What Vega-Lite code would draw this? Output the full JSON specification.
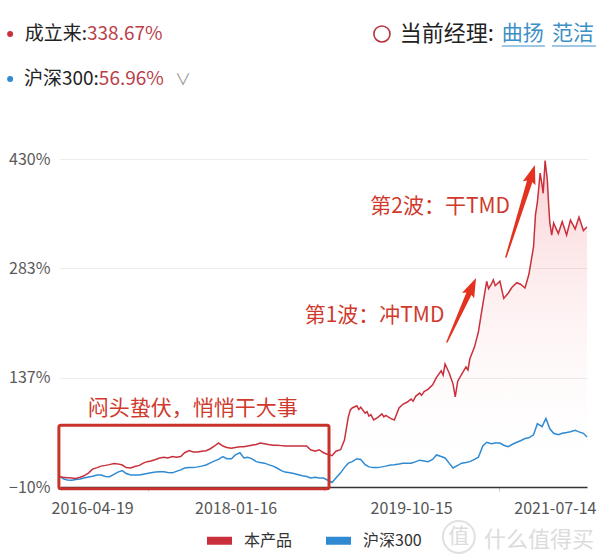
{
  "$schema": "https://vega.github.io/schema/vega-lite/v6.json",
  "width": 527,
  "height": 328,
  "autosize": {"type": "none"},
  "padding": {"left": 60, "top": 159, "right": 21, "bottom": 67},
  "background": "white",
  "config": {"font": "Noto Sans CJK SC", "view": {"stroke": null}, "axis": {"title": null}},
  "data": {"values": [{}]},
  "datasets": {
    "nav": [
      {"date":"2016-04-19","series":"本产品","value":3.8},{"date":"2016-05-01","series":"本产品","value":3},{"date":"2016-05-15","series":"本产品","value":2.5},{"date":"2016-06-01","series":"本产品","value":2},{"date":"2016-06-15","series":"本产品","value":1.5},{"date":"2016-07-01","series":"本产品","value":3},{"date":"2016-07-15","series":"本产品","value":5},{"date":"2016-08-01","series":"本产品","value":9},{"date":"2016-08-15","series":"本产品","value":14},{"date":"2016-09-01","series":"本产品","value":16},{"date":"2016-09-15","series":"本产品","value":18},{"date":"2016-10-01","series":"本产品","value":19},{"date":"2016-10-15","series":"本产品","value":20},{"date":"2016-11-01","series":"本产品","value":21.5},{"date":"2016-11-15","series":"本产品","value":21},{"date":"2016-12-01","series":"本产品","value":19.5},{"date":"2016-12-15","series":"本产品","value":16},
      {"date":"2017-01-01","series":"本产品","value":15.5},{"date":"2017-01-15","series":"本产品","value":17.5},{"date":"2017-02-01","series":"本产品","value":19},{"date":"2017-02-15","series":"本产品","value":22},{"date":"2017-03-01","series":"本产品","value":24},{"date":"2017-03-15","series":"本产品","value":25},{"date":"2017-04-01","series":"本产品","value":27},{"date":"2017-04-15","series":"本产品","value":29},{"date":"2017-05-01","series":"本产品","value":30},{"date":"2017-05-15","series":"本产品","value":29},{"date":"2017-06-01","series":"本产品","value":31},{"date":"2017-06-15","series":"本产品","value":30},{"date":"2017-07-01","series":"本产品","value":31},{"date":"2017-07-15","series":"本产品","value":36},{"date":"2017-08-01","series":"本产品","value":39},{"date":"2017-08-15","series":"本产品","value":37},{"date":"2017-09-01","series":"本产品","value":37},{"date":"2017-09-15","series":"本产品","value":38},{"date":"2017-10-01","series":"本产品","value":38.7},{"date":"2017-10-15","series":"本产品","value":41},{"date":"2017-11-01","series":"本产品","value":45},{"date":"2017-11-15","series":"本产品","value":49},{"date":"2017-12-01","series":"本产品","value":45},{"date":"2017-12-15","series":"本产品","value":43},
      {"date":"2018-01-01","series":"本产品","value":42},{"date":"2018-01-15","series":"本产品","value":43},{"date":"2018-02-01","series":"本产品","value":44},{"date":"2018-02-15","series":"本产品","value":44},{"date":"2018-03-01","series":"本产品","value":45},{"date":"2018-03-15","series":"本产品","value":46},{"date":"2018-04-01","series":"本产品","value":47},{"date":"2018-04-15","series":"本产品","value":49},{"date":"2018-05-01","series":"本产品","value":48},{"date":"2018-05-15","series":"本产品","value":47},{"date":"2018-06-01","series":"本产品","value":46},{"date":"2018-06-15","series":"本产品","value":46},{"date":"2018-07-01","series":"本产品","value":45.5},{"date":"2018-07-15","series":"本产品","value":45},{"date":"2018-08-01","series":"本产品","value":45},{"date":"2018-08-15","series":"本产品","value":45},{"date":"2018-09-01","series":"本产品","value":45},{"date":"2018-09-15","series":"本产品","value":45},{"date":"2018-10-01","series":"本产品","value":45},{"date":"2018-10-15","series":"本产品","value":40},{"date":"2018-11-01","series":"本产品","value":38},{"date":"2018-11-15","series":"本产品","value":40},{"date":"2018-12-01","series":"本产品","value":36},{"date":"2018-12-15","series":"本产品","value":34},
      {"date":"2019-01-01","series":"本产品","value":32},{"date":"2019-01-15","series":"本产品","value":38},{"date":"2019-02-01","series":"本产品","value":40},{"date":"2019-02-15","series":"本产品","value":53},{"date":"2019-03-01","series":"本产品","value":84},{"date":"2019-03-08","series":"本产品","value":93},{"date":"2019-03-15","series":"本产品","value":96},{"date":"2019-04-01","series":"本产品","value":99},{"date":"2019-04-08","series":"本产品","value":94},{"date":"2019-04-15","series":"本产品","value":97},{"date":"2019-05-01","series":"本产品","value":89},{"date":"2019-05-08","series":"本产品","value":91},{"date":"2019-05-15","series":"本产品","value":85},{"date":"2019-05-22","series":"本产品","value":87},{"date":"2019-06-01","series":"本产品","value":80},{"date":"2019-06-15","series":"本产品","value":83},{"date":"2019-07-01","series":"本产品","value":88},{"date":"2019-07-08","series":"本产品","value":84},{"date":"2019-07-15","series":"本产品","value":86},{"date":"2019-08-01","series":"本产品","value":82},{"date":"2019-08-15","series":"本产品","value":80},{"date":"2019-09-01","series":"本产品","value":96},{"date":"2019-09-15","series":"本产品","value":101},{"date":"2019-10-01","series":"本产品","value":104},{"date":"2019-10-15","series":"本产品","value":108},{"date":"2019-10-22","series":"本产品","value":105},{"date":"2019-11-01","series":"本产品","value":112},{"date":"2019-11-15","series":"本产品","value":116},{"date":"2019-11-22","series":"本产品","value":113},{"date":"2019-12-01","series":"本产品","value":118},{"date":"2019-12-15","series":"本产品","value":121},
      {"date":"2020-01-01","series":"本产品","value":127},{"date":"2020-01-15","series":"本产品","value":137},{"date":"2020-02-01","series":"本产品","value":146},{"date":"2020-02-08","series":"本产品","value":140},{"date":"2020-02-15","series":"本产品","value":155},{"date":"2020-03-01","series":"本产品","value":143},{"date":"2020-03-15","series":"本产品","value":128},{"date":"2020-03-23","series":"本产品","value":111},{"date":"2020-04-01","series":"本产品","value":132},{"date":"2020-04-15","series":"本产品","value":141},{"date":"2020-05-01","series":"本产品","value":151},{"date":"2020-05-08","series":"本产品","value":147},{"date":"2020-05-15","series":"本产品","value":162},{"date":"2020-06-01","series":"本产品","value":178},{"date":"2020-06-15","series":"本产品","value":198},{"date":"2020-07-01","series":"本产品","value":235},{"date":"2020-07-15","series":"本产品","value":266},{"date":"2020-07-22","series":"本产品","value":256},{"date":"2020-08-01","series":"本产品","value":262},{"date":"2020-08-08","series":"本产品","value":268},{"date":"2020-08-15","series":"本产品","value":260},{"date":"2020-09-01","series":"本产品","value":266},{"date":"2020-09-15","series":"本产品","value":243},{"date":"2020-10-01","series":"本产品","value":250},{"date":"2020-10-15","series":"本产品","value":258},{"date":"2020-11-01","series":"本产品","value":264},{"date":"2020-11-15","series":"本产品","value":262},{"date":"2020-12-01","series":"本产品","value":257},{"date":"2020-12-15","series":"本产品","value":275},
      {"date":"2021-01-01","series":"本产品","value":312},{"date":"2021-01-08","series":"本产品","value":355},{"date":"2021-01-15","series":"本产品","value":372},{"date":"2021-01-25","series":"本产品","value":411},{"date":"2021-02-01","series":"本产品","value":395},{"date":"2021-02-05","series":"本产品","value":384},{"date":"2021-02-12","series":"本产品","value":428},{"date":"2021-02-20","series":"本产品","value":402},{"date":"2021-02-25","series":"本产品","value":368},{"date":"2021-03-01","series":"本产品","value":345},{"date":"2021-03-08","series":"本产品","value":328},{"date":"2021-03-15","series":"本产品","value":344},{"date":"2021-04-01","series":"本产品","value":330},{"date":"2021-04-15","series":"本产品","value":346},{"date":"2021-05-01","series":"本产品","value":328},{"date":"2021-05-15","series":"本产品","value":348},{"date":"2021-06-01","series":"本产品","value":336},{"date":"2021-06-15","series":"本产品","value":352},{"date":"2021-07-01","series":"本产品","value":334},{"date":"2021-07-14","series":"本产品","value":338.67},
      {"date":"2016-04-19","series":"沪深300","value":3.8},{"date":"2016-05-01","series":"沪深300","value":1},{"date":"2016-05-15","series":"沪深300","value":-0.5},{"date":"2016-06-01","series":"沪深300","value":-1},{"date":"2016-06-15","series":"沪深300","value":0},{"date":"2016-07-01","series":"沪深300","value":0.7},{"date":"2016-07-15","series":"沪深300","value":2},{"date":"2016-08-01","series":"沪深300","value":3.5},{"date":"2016-08-15","series":"沪深300","value":4.5},{"date":"2016-09-01","series":"沪深300","value":6},{"date":"2016-09-15","series":"沪深300","value":6},{"date":"2016-10-01","series":"沪深300","value":4},{"date":"2016-10-15","series":"沪深300","value":3.8},{"date":"2016-11-01","series":"沪深300","value":7},{"date":"2016-11-15","series":"沪深300","value":10},{"date":"2016-12-01","series":"沪深300","value":12},{"date":"2016-12-15","series":"沪深300","value":8},
      {"date":"2017-01-01","series":"沪深300","value":6},{"date":"2017-01-15","series":"沪深300","value":6},{"date":"2017-02-01","series":"沪深300","value":6},{"date":"2017-02-15","series":"沪深300","value":7},{"date":"2017-03-01","series":"沪深300","value":8},{"date":"2017-03-15","series":"沪深300","value":9},{"date":"2017-04-01","series":"沪深300","value":10},{"date":"2017-04-15","series":"沪深300","value":10.5},{"date":"2017-05-01","series":"沪深300","value":10.5},{"date":"2017-05-15","series":"沪深300","value":9.5},{"date":"2017-06-01","series":"沪深300","value":9},{"date":"2017-06-15","series":"沪深300","value":11},{"date":"2017-07-01","series":"沪深300","value":13},{"date":"2017-07-15","series":"沪深300","value":15.5},{"date":"2017-08-01","series":"沪深300","value":16},{"date":"2017-08-15","series":"沪深300","value":16},{"date":"2017-09-01","series":"沪深300","value":17},{"date":"2017-09-15","series":"沪深300","value":18},{"date":"2017-10-01","series":"沪深300","value":19.5},{"date":"2017-10-15","series":"沪深300","value":22},{"date":"2017-11-01","series":"沪深300","value":25},{"date":"2017-11-15","series":"沪深300","value":27},{"date":"2017-12-01","series":"沪深300","value":30.7},{"date":"2017-12-15","series":"沪深300","value":28},
      {"date":"2018-01-01","series":"沪深300","value":28},{"date":"2018-01-15","series":"沪深300","value":33},{"date":"2018-02-01","series":"沪深300","value":36},{"date":"2018-02-15","series":"沪深300","value":29},{"date":"2018-03-01","series":"沪深300","value":30},{"date":"2018-03-15","series":"沪深300","value":28},{"date":"2018-04-01","series":"沪深300","value":24},{"date":"2018-04-15","series":"沪深300","value":23},{"date":"2018-05-01","series":"沪深300","value":22},{"date":"2018-05-15","series":"沪深300","value":20},{"date":"2018-06-01","series":"沪深300","value":18},{"date":"2018-06-15","series":"沪深300","value":15.5},{"date":"2018-07-01","series":"沪深300","value":12},{"date":"2018-07-15","series":"沪深300","value":10},{"date":"2018-08-01","series":"沪深300","value":9},{"date":"2018-08-15","series":"沪深300","value":8},{"date":"2018-09-01","series":"沪深300","value":6.5},{"date":"2018-09-15","series":"沪深300","value":5},{"date":"2018-10-01","series":"沪深300","value":4},{"date":"2018-10-15","series":"沪深300","value":2},{"date":"2018-11-01","series":"沪深300","value":3},{"date":"2018-11-15","series":"沪深300","value":2},{"date":"2018-12-01","series":"沪深300","value":2},{"date":"2018-12-15","series":"沪深300","value":-0.6},
      {"date":"2019-01-01","series":"沪深300","value":-4},{"date":"2019-01-15","series":"沪深300","value":2},{"date":"2019-02-01","series":"沪深300","value":9},{"date":"2019-02-15","series":"沪深300","value":16},{"date":"2019-03-01","series":"沪深300","value":22},{"date":"2019-03-15","series":"沪深300","value":24},{"date":"2019-04-01","series":"沪深300","value":28},{"date":"2019-04-15","series":"沪深300","value":27},{"date":"2019-05-01","series":"沪深300","value":20},{"date":"2019-05-15","series":"沪深300","value":17},{"date":"2019-06-01","series":"沪深300","value":16},{"date":"2019-06-15","series":"沪深300","value":16},{"date":"2019-07-01","series":"沪深300","value":17},{"date":"2019-07-15","series":"沪深300","value":18},{"date":"2019-08-01","series":"沪深300","value":19.5},{"date":"2019-08-15","series":"沪深300","value":20},{"date":"2019-09-01","series":"沪深300","value":21},{"date":"2019-09-15","series":"沪深300","value":22},{"date":"2019-10-01","series":"沪深300","value":22},{"date":"2019-10-15","series":"沪深300","value":22},{"date":"2019-11-01","series":"沪深300","value":24},{"date":"2019-11-15","series":"沪深300","value":26},{"date":"2019-12-01","series":"沪深300","value":25},{"date":"2019-12-15","series":"沪深300","value":24},
      {"date":"2020-01-01","series":"沪深300","value":27},{"date":"2020-01-15","series":"沪深300","value":33},{"date":"2020-02-01","series":"沪深300","value":31},{"date":"2020-02-15","series":"沪深300","value":29},{"date":"2020-03-01","series":"沪深300","value":22},{"date":"2020-03-15","series":"沪深300","value":15.5},{"date":"2020-04-01","series":"沪深300","value":19},{"date":"2020-04-15","series":"沪深300","value":22},{"date":"2020-05-01","series":"沪深300","value":23},{"date":"2020-05-15","series":"沪深300","value":24},{"date":"2020-06-01","series":"沪深300","value":27},{"date":"2020-06-15","series":"沪深300","value":30},{"date":"2020-07-01","series":"沪深300","value":45},{"date":"2020-07-15","series":"沪深300","value":50},{"date":"2020-08-01","series":"沪深300","value":48},{"date":"2020-08-15","series":"沪深300","value":49},{"date":"2020-09-01","series":"沪深300","value":49},{"date":"2020-09-15","series":"沪深300","value":46},{"date":"2020-10-01","series":"沪深300","value":44},{"date":"2020-10-15","series":"沪深300","value":47},{"date":"2020-11-01","series":"沪深300","value":50},{"date":"2020-11-15","series":"沪深300","value":52},{"date":"2020-12-01","series":"沪深300","value":55},{"date":"2020-12-15","series":"沪深300","value":56},
      {"date":"2021-01-01","series":"沪深300","value":60},{"date":"2021-01-15","series":"沪深300","value":75},{"date":"2021-02-01","series":"沪深300","value":71},{"date":"2021-02-15","series":"沪深300","value":82},{"date":"2021-03-01","series":"沪深300","value":68},{"date":"2021-03-15","series":"沪深300","value":62},{"date":"2021-04-01","series":"沪深300","value":60},{"date":"2021-04-15","series":"沪深300","value":62},{"date":"2021-05-01","series":"沪深300","value":63},{"date":"2021-05-15","series":"沪深300","value":64},{"date":"2021-06-01","series":"沪深300","value":66},{"date":"2021-06-15","series":"沪深300","value":64},{"date":"2021-07-01","series":"沪深300","value":62},{"date":"2021-07-14","series":"沪深300","value":57}
    ],
    "arrows": [
      {"arrow":"1","end":"tail","date":"2020-02-22","value":184.5},
      {"arrow":"1","end":"head","date":"2020-05-21","value":257},
      {"arrow":"2","end":"tail","date":"2020-09-23","value":298.5},
      {"arrow":"2","end":"head","date":"2020-12-25","value":408}
    ]
  },
  "layer": [
    {
      "data": {"name": "nav"},
      "transform": [{"filter": "datum.series == '本产品'"}],
      "mark": {"type": "area", "color": {"gradient": "linear", "x1": 0, "y1": 0, "x2": 0, "y2": 1, "stops": [{"offset": 0, "color": "rgba(236,80,90,0.26)"}, {"offset": 1, "color": "rgba(255,255,255,0)"}]}},
      "encoding": {
        "x": {"field": "date", "type": "temporal",
          "scale": {"type": "utc", "domain": [{"year":2016,"month":4,"date":19,"utc":true},{"year":2021,"month":7,"date":14,"utc":true}], "nice": false},
          "axis": {
            "values": [{"year":2016,"month":4,"date":19,"utc":true},{"year":2017,"month":3,"date":3,"utc":true},{"year":2018,"month":1,"date":16,"utc":true},{"year":2018,"month":12,"date":1,"utc":true},{"year":2019,"month":10,"date":15,"utc":true},{"year":2020,"month":8,"date":29,"utc":true},{"year":2021,"month":7,"date":14,"utc":true}],
            "format": "%Y-%m-%d", "formatType": "utc",
            "labelExpr": "utcdate(datum.value) > 10 && utcdate(datum.value) < 25 ? utcFormat(datum.value, '%Y-%m-%d') : ''",
            "labelFlush": true, "labelFlushOffset": 9, "labelOverlap": false,
            "labelFontSize": 16, "labelColor": "#555", "labelPadding": 9,
            "tickSize": 4, "tickColor": "#c8c8c8",
            "tickOpacity": {"condition": {"test": "utcdate(datum.value) > 10 && utcdate(datum.value) < 25", "value": 0}, "value": 1},
            "domainColor": "#333", "domainWidth": 1.5, "grid": false, "title": null
          }
        },
        "y": {"field": "value", "type": "quantitative",
          "scale": {"domain": [-10, 430], "nice": false, "zero": false},
          "axis": {"values": [-10, 136.6667, 283.3333, 430], "labelExpr": "format(datum.value, '.0f') + '%'", "grid": true, "gridColor": "#ececec", "domain": false, "ticks": false, "labelFontSize": 16, "labelColor": "#5a5a5a", "labelPadding": 10, "title": null}
        },
        "y2": {"datum": -10}
      }
    },
    {
      "data": {"name": "nav"},
      "transform": [{"filter": "datum.series == '沪深300'"}],
      "mark": {"type": "line", "strokeWidth": 1.5},
      "encoding": {
        "x": {"field": "date", "type": "temporal"},
        "y": {"field": "value", "type": "quantitative"},
        "color": {"field": "series", "type": "nominal", "scale": {"domain": ["本产品", "沪深300"], "range": ["#c9303c", "#2f8ad2"]},
          "legend": {"orient": "none", "legendX": 143, "legendY": 365, "direction": "horizontal", "title": null, "symbolType": "stroke", "symbolSize": 625, "symbolStrokeWidth": 8, "labelFontSize": 16, "labelColor": "#333", "labelOffset": 8, "columnPadding": 17, "padding": 0}}
      }
    },
    {
      "data": {"name": "nav"},
      "transform": [{"filter": "datum.series == '本产品'"}],
      "mark": {"type": "line", "strokeWidth": 1.5},
      "encoding": {
        "x": {"field": "date", "type": "temporal"},
        "y": {"field": "value", "type": "quantitative"},
        "color": {"field": "series", "type": "nominal"}
      }
    },
    {
      "mark": {"type": "rect", "fill": "transparent", "stroke": "#c8322b", "strokeWidth": 3, "cornerRadius": 2},
      "encoding": {
        "x": {"datum": {"year":2016,"month":4,"date":15,"utc":true}, "type": "temporal"},
        "x2": {"datum": {"year":2018,"month":12,"date":21,"utc":true}},
        "y": {"datum": 73},
        "y2": {"datum": -12.5}
      }
    },
    {
      "mark": {"type": "text", "text": "闷头蛰伏，悄悄干大事", "fontSize": 21, "color": "#cf3a2d", "align": "center", "baseline": "middle"},
      "encoding": {"x": {"datum": {"year":2017,"month":8,"date":14,"utc":true}, "type": "temporal"}, "y": {"datum": 94.6}}
    },
    {
      "mark": {"type": "text", "text": "第1波：冲TMD", "fontSize": 21, "color": "#cf3a2d", "align": "center", "baseline": "middle"},
      "encoding": {"x": {"datum": {"year":2019,"month":6,"date":4,"utc":true}, "type": "temporal"}, "y": {"datum": 219.4}}
    },
    {
      "mark": {"type": "text", "text": "第2波：干TMD", "fontSize": 21, "color": "#cf3a2d", "align": "center", "baseline": "middle"},
      "encoding": {"x": {"datum": {"year":2020,"month":1,"date":28,"utc":true}, "type": "temporal"}, "y": {"datum": 365.6}}
    },
    {
      "data": {"name": "arrows"},
      "mark": {"type": "trail", "color": "#e3321f"},
      "encoding": {
        "x": {"field": "date", "type": "temporal"},
        "y": {"field": "value", "type": "quantitative"},
        "detail": {"field": "arrow"},
        "size": {"field": "end", "type": "ordinal", "scale": {"domain": ["tail", "head"], "range": [1.5, 6]}, "legend": null}
      }
    },
    {
      "mark": {"type": "point", "shape": "M0,-1L0.6,0.75L0,0.45L-0.6,0.75Z", "size": 484, "angle": 24.4, "filled": true, "color": "#e3321f", "opacity": 1, "strokeWidth": 0},
      "encoding": {"x": {"datum": {"year":2020,"month":5,"date":21,"utc":true}, "type": "temporal"}, "y": {"datum": 257}}
    },
    {
      "mark": {"type": "point", "shape": "M0,-1L0.6,0.75L0,0.45L-0.6,0.75Z", "size": 484, "angle": 17.5, "filled": true, "color": "#e3321f", "opacity": 1, "strokeWidth": 0},
      "encoding": {"x": {"datum": {"year":2020,"month":12,"date":25,"utc":true}, "type": "temporal"}, "y": {"datum": 408}}
    },
    {
      "mark": {"type": "point", "shape": "circle", "size": 36, "filled": true, "color": "#c9303c", "opacity": 1},
      "encoding": {"x": {"datum": {"year":2015,"month":10,"date":21,"utc":true}, "type": "temporal"}, "y": {"datum": 597.7}}
    },
    {
      "mark": {"type": "point", "shape": "circle", "size": 36, "filled": true, "color": "#2f8ad2", "opacity": 1},
      "encoding": {"x": {"datum": {"year":2015,"month":10,"date":21,"utc":true}, "type": "temporal"}, "y": {"datum": 537.3}}
    },
    {
      "mark": {"type": "text", "text": "成立来:", "fontSize": 19, "color": "#222", "align": "right", "baseline": "middle"},
      "encoding": {"x": {"datum": {"year":2016,"month":7,"date":26,"utc":true}, "type": "temporal"}, "y": {"datum": 597.7}}
    },
    {
      "mark": {"type": "text", "text": "338.67%", "fontSize": 19, "color": "#b8414b", "align": "left", "baseline": "middle"},
      "encoding": {"x": {"datum": {"year":2016,"month":7,"date":26,"utc":true}, "type": "temporal"}, "y": {"datum": 597.7}}
    },
    {
      "mark": {"type": "text", "text": "沪深300:", "fontSize": 19, "color": "#222", "align": "right", "baseline": "middle"},
      "encoding": {"x": {"datum": {"year":2016,"month":9,"date":7,"utc":true}, "type": "temporal"}, "y": {"datum": 537.3}}
    },
    {
      "mark": {"type": "text", "text": "56.96%", "fontSize": 19, "color": "#b8414b", "align": "left", "baseline": "middle"},
      "encoding": {"x": {"datum": {"year":2016,"month":9,"date":7,"utc":true}, "type": "temporal"}, "y": {"datum": 537.3}}
    },
    {
      "mark": {"type": "text", "text": "∨", "fontSize": 16, "color": "#999", "align": "center", "baseline": "middle"},
      "encoding": {"x": {"datum": {"year":2017,"month":7,"date":9,"utc":true}, "type": "temporal"}, "y": {"datum": 536}}
    },
    {
      "mark": {"type": "point", "shape": "circle", "size": 260, "filled": false, "color": "#b5333f", "strokeWidth": 1.6, "opacity": 1},
      "encoding": {"x": {"datum": {"year":2019,"month":7,"date":1,"utc":true}, "type": "temporal"}, "y": {"datum": 597.7}}
    },
    {
      "mark": {"type": "text", "text": "当前经理:", "fontSize": 22, "color": "#222", "align": "left", "baseline": "middle"},
      "encoding": {"x": {"datum": {"year":2019,"month":9,"date":4,"utc":true}, "type": "temporal"}, "y": {"datum": 597.7}}
    },
    {
      "mark": {"type": "text", "text": "曲扬", "fontSize": 21, "color": "#3d8fc6", "align": "left", "baseline": "middle"},
      "encoding": {"x": {"datum": {"year":2020,"month":9,"date":8,"utc":true}, "type": "temporal"}, "y": {"datum": 597.7}}
    },
    {
      "mark": {"type": "text", "text": "范洁", "fontSize": 21, "color": "#3d8fc6", "align": "left", "baseline": "middle"},
      "encoding": {"x": {"datum": {"year":2021,"month":3,"date":9,"utc":true}, "type": "temporal"}, "y": {"datum": 597.7}}
    },
    {
      "mark": {"type": "rule", "color": "#3d8fc6", "strokeWidth": 1.2},
      "encoding": {"x": {"datum": {"year":2020,"month":9,"date":8,"utc":true}, "type": "temporal"}, "x2": {"datum": {"year":2021,"month":2,"date":11,"utc":true}}, "y": {"datum": 581.6}}
    },
    {
      "mark": {"type": "rule", "color": "#3d8fc6", "strokeWidth": 1.2},
      "encoding": {"x": {"datum": {"year":2021,"month":3,"date":9,"utc":true}, "type": "temporal"}, "x2": {"datum": {"year":2021,"month":8,"date":16,"utc":true}}, "y": {"datum": 581.6}}
    },
    {
      "mark": {"type": "point", "shape": "circle", "size": 1018, "filled": false, "color": "#e0e0e0", "strokeWidth": 2, "opacity": 1},
      "encoding": {"x": {"datum": {"year":2020,"month":4,"date":5,"utc":true}, "type": "temporal"}, "y": {"datum": -77}}
    },
    {
      "mark": {"type": "text", "text": "值", "fontSize": 21, "color": "#dcdcdc", "align": "center", "baseline": "middle"},
      "encoding": {"x": {"datum": {"year":2020,"month":4,"date":5,"utc":true}, "type": "temporal"}, "y": {"datum": -77}}
    },
    {
      "mark": {"type": "text", "text": "什么值得买", "fontSize": 22, "color": "#dcdcdc", "align": "left", "baseline": "middle"},
      "encoding": {"x": {"datum": {"year":2020,"month":7,"date":5,"utc":true}, "type": "temporal"}, "y": {"datum": -81}}
    }
  ]
}
